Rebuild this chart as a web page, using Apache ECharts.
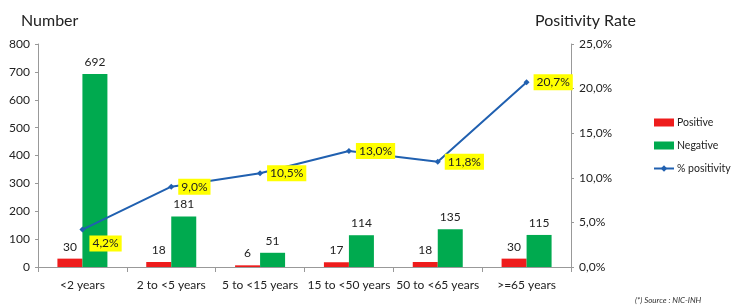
<!DOCTYPE html>
<html><head><meta charset="utf-8">
<script src="https://cdn.jsdelivr.net/npm/echarts@6/dist/echarts.min.js"></script>
<style>html,body{margin:0;padding:0;background:#fff}#c{width:734px;height:306px}</style>
</head><body><div id="c"></div>
<script>
const categories = ['<2 years','2 to <5 years','5 to <15 years','15 to <50 years','50 to <65 years','>=65 years'];
const positive = [30,18,6,17,18,30];
const negative = [692,181,51,114,135,115];
const positivity = [4.2,9.0,10.5,13.0,11.8,20.7];
const leftTicks = [0,100,200,300,400,500,600,700,800];
const rightTicks = [0,5,10,15,20,25];
const fmtPct = v => v.toFixed(1).replace('.', ',') + '%';
const font = 'Lato, "Open Sans", sans-serif';
const chart = echarts.init(document.getElementById('c'));
chart.setOption({
  animation:false,
  textStyle:{fontFamily:font},
  grid:{left:38,right:163,top:44,bottom:39},
  title:[
    {text:'Number',left:16,top:8,textStyle:{fontSize:16,fontWeight:'normal',color:'#222',fontFamily:font}},
    {text:'Positivity Rate',left:530,top:8,textStyle:{fontSize:16,fontWeight:'normal',color:'#222',fontFamily:font}},
    {text:'(*) Source : NIC-INH',left:630,top:291,textStyle:{fontSize:8,fontStyle:'italic',fontWeight:'normal',color:'#333',fontFamily:font}}
  ],
  legend:{orient:'vertical',left:648,top:112,itemGap:12,itemWidth:20,itemHeight:8,
    textStyle:{fontSize:10.5,color:'#222',fontFamily:font,padding:[0,0,0,-2]},
    data:[{name:'Positive',icon:'rect'},{name:'Negative',icon:'rect'},{name:'% positivity'}]},
  xAxis:{type:'category',data:categories,
    axisLine:{lineStyle:{color:'#999'}},
    axisTick:{show:true,alignWithLabel:false,length:5,lineStyle:{color:'#999'}},
    axisLabel:{color:'#222',fontSize:12,margin:12,interval:0,fontFamily:font}},
  yAxis:[
    {type:'value',min:0,max:800,interval:100,
      axisLine:{show:true,lineStyle:{color:'#999'}},
      axisTick:{show:true,length:3,lineStyle:{color:'#999'}},
      splitLine:{show:false},
      axisLabel:{color:'#222',fontSize:12,margin:8,fontFamily:font}},
    {type:'value',min:0,max:25,interval:5,
      axisLine:{show:true,lineStyle:{color:'#999'}},
      axisTick:{show:true,length:3,lineStyle:{color:'#999'}},
      splitLine:{show:false},
      axisLabel:{color:'#222',fontSize:12,margin:8,fontFamily:font,formatter:v=>fmtPct(v)}}
  ],
  series:[
    {name:'Positive',type:'bar',data:positive,barWidth:25,barGap:'0%',itemStyle:{color:'#ee1c1c'},
      label:{show:true,position:'top',distance:6,color:'#222',fontSize:12,fontFamily:font}},
    {name:'Negative',type:'bar',data:negative,barWidth:25,itemStyle:{color:'#00aa4f'},
      label:{show:true,position:'top',distance:6,color:'#222',fontSize:12,fontFamily:font}},
    {name:'% positivity',type:'line',yAxisIndex:1,
      data:positivity.map((v,i)=> i===0 ? {value:v,label:{offset:[0,14]}} : v),
      symbol:'diamond',symbolSize:6,
      lineStyle:{color:'#2060b0',width:2},itemStyle:{color:'#2060b0'},
      label:{show:true,position:'right',distance:4,formatter:p=>fmtPct(p.value),
        backgroundColor:'#ffff00',padding:[2,3],color:'#222',fontSize:12,fontFamily:font}}
  ]
});
</script></body></html>
